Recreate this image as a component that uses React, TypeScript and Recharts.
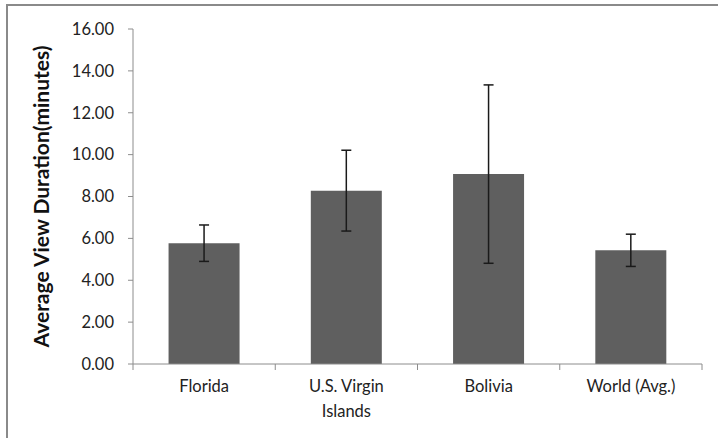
import React from 'react'
import { BarChart, Bar, XAxis, YAxis, ErrorBar, Text } from 'recharts'

const regions = ['Florida', 'U.S. Virgin Islands', 'Bolivia', 'World (Avg.)']
const avgMinutes = [5.77, 8.28, 9.07, 5.43]
const errMinutes = [0.87, 1.93, 4.26, 0.77]
const yTicks = [0, 2, 4, 6, 8, 10, 12, 14, 16]

const data = regions.map((name, i) => ({ name, value: avgMinutes[i], err: errMinutes[i] }))

const W = 718
const H = 438
const LEFT = 133
const RIGHT = 16
const band = (W - LEFT - RIGHT) / regions.length
const font = 'Lato, "Open Sans", sans-serif'
const axisColor = '#8c8c8c'

function CategoryTick(props: any) {
  const { x, y, payload, index } = props
  const half = band / 2
  return (
    <g>
      <line x1={x - half} x2={x - half} y1={y - 8} y2={y - 2} stroke={axisColor} />
      {index === regions.length - 1 && (
        <line x1={x + half} x2={x + half} y1={y - 8} y2={y - 2} stroke={axisColor} />
      )}
      <Text
        x={x}
        y={y + 8}
        width={band - 30}
        textAnchor="middle"
        verticalAnchor="start"
        lineHeight={25}
        fill="#222"
        style={{ fontFamily: font, fontSize: 16.5 }}
      >
        {payload.value}
      </Text>
    </g>
  )
}

export default function App() {
  return (
    <div style={{ position: 'absolute', left: 0, top: 0, width: W, height: H, background: '#fff' }}>
      <div
        style={{
          position: 'absolute',
          left: 6,
          top: 4,
          right: -4,
          bottom: -4,
          borderLeft: '2px solid #8a8a8a',
          borderTop: '2px solid #8a8a8a',
        }}
      />
      <BarChart
        width={W}
        height={H}
        data={data}
        margin={{ top: 29, right: RIGHT, bottom: 14, left: 0 }}
        barCategoryGap="25%"
        style={{ position: 'absolute', left: 0, top: 0 }}
      >
        <XAxis
          dataKey="name"
          height={60}
          stroke={axisColor}
          tickLine={false}
          interval={0}
          tick={<CategoryTick />}
        />
        <YAxis
          width={LEFT}
          domain={[0, 16]}
          ticks={yTicks}
          stroke={axisColor}
          tickSize={5}
          tickMargin={14}
          tickFormatter={(v: number) => v.toFixed(2)}
          tick={{ fill: '#222', fontSize: 16.5, fontFamily: font }}
          label={{
            content: (p: any) => {
              const vb = p.viewBox
              const cx = vb.x + 40
              const cy = vb.y + vb.height / 2
              return (
                <text
                  x={cx}
                  y={cy}
                  transform={`rotate(-90, ${cx}, ${cy})`}
                  textAnchor="middle"
                  dominantBaseline="central"
                  style={{ fontFamily: font, fontSize: 21, fontWeight: 700, fill: '#111' }}
                >
                  Average View Duration(minutes)
                </text>
              )
            },
          }}
        />
        <Bar dataKey="value" fill="#5f5f5f" isAnimationActive={false}>
          <ErrorBar dataKey="err" width={5} stroke="#1a1a1a" strokeWidth={1.5} />
        </Bar>
      </BarChart>
    </div>
  )
}
